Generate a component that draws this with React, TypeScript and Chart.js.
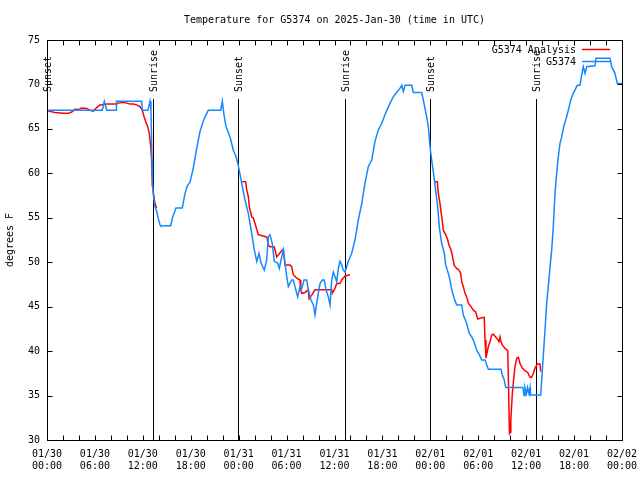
import React, { useEffect, useRef } from "react";
import { Chart, registerables } from "chart.js";

Chart.register(...registerables);

const FONT = '"DejaVu Sans Mono", "Liberation Mono", monospace';
const BLUE = "#1588ff";
const RED = "#ff0000";

const titleText = "Temperature for G5374 on 2025-Jan-30 (time in UTC)";
const yAxisTitle = "degrees F";
const obsLabel = "G5374";
const anaLabel = "G5374 Analysis";

// x axis: hours since 2025-01-30 00:00 UTC
const tickHours = [0, 6, 12, 18, 24, 30, 36, 42, 48, 54, 60, 66, 72];
const tickDates = ["01/30", "01/30", "01/30", "01/30", "01/31", "01/31", "01/31", "01/31", "02/01", "02/01", "02/01", "02/01", "02/02"];
const tickTimes = ["00:00", "06:00", "12:00", "18:00", "00:00", "06:00", "12:00", "18:00", "00:00", "06:00", "12:00", "18:00", "00:00"];

const yMin = 30;
const yMax = 75;
const yStep = 5;

// sunrise / sunset markers (hours)
const sunHours = [0, 13.31, 23.96, 37.32, 48.0, 61.25];
const sunLabels = ["Sunset", "Sunrise", "Sunset", "Sunrise", "Sunset", "Sunrise"];
const sunLineTopF = 68.4;

// G5374 observations
const obsHours = [
  0, 6.92, 7.18, 7.48, 8.64, 8.7, 11.86, 11.93, 12.65, 12.9,
  13.02, 13.15, 13.21, 13.31, 13.52, 13.74, 13.94, 14.15, 14.24, 15.49,
  15.74, 16.15, 16.94, 17.28, 17.57, 17.91, 18.32, 18.75, 19.16, 19.66,
  20.2, 21.75, 21.95, 22.16, 22.41, 22.92, 23.33, 23.67, 23.95, 24.38,
  24.79, 25.21, 25.63, 25.96, 26.26, 26.55, 26.8, 27.21, 27.51, 27.71,
  27.92, 28.21, 28.46, 28.89, 29.09, 29.39, 29.59, 29.8, 30.02, 30.22,
  30.64, 30.84, 31.05, 31.39, 31.68, 31.89, 32.18, 32.52, 32.72, 33.06,
  33.35, 33.56, 33.77, 33.97, 34.19, 34.47, 34.72, 34.94, 35.22, 35.44,
  35.65, 35.85, 36.06, 36.28, 36.48, 36.69, 36.9, 37.1, 37.32, 37.73,
  38.15, 38.57, 38.98, 39.41, 39.82, 40.23, 40.66, 41.07, 41.49, 41.91,
  42.32, 42.95, 43.36, 43.7, 44.2, 44.42, 44.62, 44.83, 45.67, 45.87,
  46.92, 47.12, 47.46, 47.75, 47.96, 48.17, 48.46, 48.71, 48.92, 49.12,
  49.42, 49.75, 49.92, 50.25, 50.46, 50.68, 51.0, 51.3, 51.93, 52.13,
  52.55, 52.88, 53.18, 53.47, 53.81, 54.13, 54.43, 54.85, 55.26, 56.85,
  57.01, 57.26, 57.44, 59.6, 59.73, 59.85, 60.04, 60.17, 60.36, 60.48,
  60.54, 61.82, 61.95, 62.15, 62.36, 62.57, 62.77, 62.99, 63.2, 63.4,
  63.61, 63.82, 64.03, 64.24, 64.45, 64.74, 64.95, 65.28, 65.58, 65.9,
  66.4, 66.74, 66.95, 67.15, 67.37, 67.58, 68.62, 68.75, 70.5, 70.71,
  71.12, 71.41, 72.0,
];
const obsTemps = [
  67.1, 67.1, 68.1, 67.1, 67.1, 68.1, 68.1, 67.1, 67.1, 68.1,
  67.1, 61.3, 58.6, 57.6, 56.25, 55.7, 54.9, 54.2, 54.1, 54.1,
  55.1, 56.1, 56.1, 57.75, 58.6, 59.0, 60.6, 62.8, 64.7, 66.1,
  67.1, 67.1, 68.1, 66.6, 65.3, 64.1, 62.6, 61.9, 60.9, 58.9,
  57.0, 55.5, 53.25, 51.4, 50.1, 51.0, 49.9, 49.1, 50.25, 52.9,
  53.1, 52.1, 50.1, 49.9, 49.3, 50.6, 51.4, 49.9, 48.4, 47.25,
  48.0, 48.0, 47.25, 46.1, 47.25, 47.0, 48.0, 48.0, 46.9, 45.75,
  45.2, 44.06, 45.4, 46.5, 47.6, 48.0, 48.0, 46.9, 46.1, 45.2,
  48.0, 48.9, 48.4, 47.8, 49.3, 50.1, 49.7, 49.1, 48.9, 50.1,
  51.0, 52.5, 54.75, 56.6, 58.9, 60.75, 61.5, 63.6, 64.9, 65.6,
  66.6, 67.9, 68.6, 69.0, 69.55, 69.9, 69.2, 69.9, 69.9, 69.1,
  69.1, 68.25, 66.75, 65.25, 63.0, 61.5, 59.6, 57.75, 56.25, 54.0,
  52.1, 51.0, 49.7, 48.75, 48.0, 46.9, 45.9, 45.2, 45.2, 44.06,
  43.1, 42.0, 41.6, 41.05, 40.1, 39.6, 39.0, 39.0, 37.95, 37.95,
  37.3, 36.75, 35.9, 35.9, 35.0, 35.9, 35.2, 35.9, 35.2, 35.9,
  35.06, 35.06, 36.75, 39.5, 42.4, 45.4, 47.25, 49.5, 51.4, 54.0,
  57.75, 60.0, 61.9, 63.4, 64.1, 65.4, 66.0, 67.1, 68.25, 69.0,
  69.9, 69.9, 71.06, 72.0, 71.25, 72.0, 72.1, 72.95, 72.95, 72.0,
  71.25, 70.1, 70.1,
];

// G5374 Analysis (null = no analysis)
const anaHours = [
  0.16, 1.0, 2.04, 2.67, 3.09, 3.51, 4.13, 4.35, 4.97, 5.38,
  5.8, 6.22, 6.64, 7.48, 8.73, 8.93, 9.55, 9.98, 10.39, 10.81,
  11.23, 11.65, 11.93, 12.15, 12.36, 12.61, 12.81, 12.99, 13.11, 13.19,
  13.36, 13.52, 13.74, 14.0, 24.46, 24.88, 25.01, 25.21, 25.33, 25.63,
  25.83, 25.96, 26.17, 26.46, 27.3, 27.55, 27.71, 27.92, 28.43, 28.55,
  28.76, 28.96, 29.3, 29.59, 29.8, 30.43, 30.64, 30.84, 31.27, 31.68,
  31.77, 31.89, 32.31, 32.72, 32.81, 33.15, 33.56, 35.65, 35.72, 36.06,
  36.28, 36.69, 36.9, 37.32, 37.94, 38.2, 48.59, 48.87, 49.0, 49.21,
  49.34, 49.5, 49.62, 49.92, 50.18, 50.34, 50.59, 50.75, 51.0, 51.3,
  51.59, 51.8, 51.93, 52.13, 52.34, 52.55, 52.76, 53.09, 53.38, 53.68,
  53.93, 54.22, 54.75, 54.85, 54.97, 55.26, 55.47, 55.69, 55.89, 56.44,
  56.6, 56.73, 56.85, 57.01, 57.35, 57.69, 57.76, 57.91, 58.01, 58.06,
  58.1, 58.27, 58.39, 58.6, 58.82, 59.02, 59.23, 59.52, 59.86, 60.19,
  60.48, 60.69, 60.9, 61.11, 61.4, 61.73, 61.82,
];
const anaTemps = [
  67.0, 66.85, 66.75, 66.75, 66.9, 67.2, 67.25, 67.35, 67.3, 67.1,
  67.0, 67.4, 67.7, 67.8, 67.8, 67.9, 68.0, 67.9, 67.8, 67.8,
  67.7, 67.5, 67.1, 66.4, 65.8, 65.25, 64.5, 63.0, 61.3, 58.7,
  57.6, 56.6, 56.1, null, 59.05, 59.05, 58.1, 57.4, 56.25, 55.1,
  55.0, 54.6, 54.0, 53.1, 52.9, 52.8, 51.9, 51.75, 51.75, 51.4,
  50.6, 50.8, 51.2, 51.45, 49.7, 49.7, 49.5, 48.6, 48.2, 48.0,
  46.9, 46.5, 46.6, 46.9, 45.9, 46.3, 46.9, 46.9, 46.5, 47.05,
  47.6, 47.6, 48.0, 48.45, 48.6, null, 59.05, 59.05, 57.75, 56.6,
  55.7, 54.6, 53.6, 53.1, 52.5, 51.9, 51.4, 50.8, 49.6, 49.3,
  49.1, 48.75, 47.8, 47.25, 46.5, 46.1, 45.4, 45.0, 44.6, 44.4,
  43.6, 43.7, 43.8, 41.25, 39.2, 40.5, 41.05, 41.8, 41.9, 41.3,
  41.05, 41.6, 41.05, 40.7, 40.3, 40.05, 37.5, 30.6, 32.0, 30.8,
  32.25, 35.25, 36.4, 38.25, 39.2, 39.3, 38.6, 38.1, 37.8, 37.6,
  37.05, 37.05, 37.5, 38.1, 38.55, 38.55, 37.7,
];

const decor = {
  id: "decor",
  beforeDatasetsDraw(chart: any) {
    const { ctx, chartArea: a, scales } = chart;
    const x = scales.x;
    const y = scales.y;
    ctx.save();
    ctx.strokeStyle = "#000";
    ctx.lineWidth = 1;
    const top = Math.round(y.getPixelForValue(sunLineTopF));
    sunHours.forEach((h) => {
      const px = Math.round(x.getPixelForValue(h)) + 0.5;
      ctx.beginPath();
      ctx.moveTo(px, top);
      ctx.lineTo(px, a.bottom);
      ctx.stroke();
    });
    ctx.restore();
  },
  afterDraw(chart: any) {
    const { ctx, chartArea: a, scales } = chart;
    const x = scales.x;
    const y = scales.y;
    ctx.save();
    ctx.strokeStyle = "#000";
    ctx.fillStyle = "#000";
    ctx.lineWidth = 1;
    const L = Math.round(a.left) + 0.5;
    const R = Math.round(a.right) + 0.5;
    const T = Math.round(a.top) + 0.5;
    const B = Math.round(a.bottom) + 0.5;
    ctx.strokeRect(L, T, R - L, B - T);
    // x tick marks every 2 hours, bottom and top, inward
    ctx.beginPath();
    for (let h = 0; h <= 72; h += 2) {
      const px = Math.round(x.getPixelForValue(h)) + 0.5;
      ctx.moveTo(px, B);
      ctx.lineTo(px, B - 5);
      ctx.moveTo(px, T);
      ctx.lineTo(px, T + 5);
    }
    for (let v = yMin; v <= yMax; v += yStep) {
      const py = Math.round(y.getPixelForValue(v)) + 0.5;
      ctx.moveTo(L, py);
      ctx.lineTo(L + 5, py);
      ctx.moveTo(R, py);
      ctx.lineTo(R - 5, py);
    }
    ctx.stroke();

    ctx.font = `10px ${FONT}`;
    // title
    ctx.textAlign = "center";
    ctx.textBaseline = "middle";
    ctx.fillText(titleText, (a.left + a.right) / 2, 20);
    // y title
    ctx.save();
    ctx.translate(10, (a.top + a.bottom) / 2);
    ctx.rotate(-Math.PI / 2);
    ctx.fillText(yAxisTitle, 0, 0);
    ctx.restore();
    // sun labels
    const lineTop = Math.round(y.getPixelForValue(sunLineTopF));
    sunHours.forEach((h, i) => {
      const px = Math.round(x.getPixelForValue(h)) + 0.5;
      ctx.save();
      ctx.translate(px + 1, lineTop - 7);
      ctx.rotate(-Math.PI / 2);
      ctx.textAlign = "left";
      ctx.textBaseline = "middle";
      ctx.fillText(sunLabels[i], 0, 0);
      ctx.restore();
    });
    // legend
    ctx.textAlign = "right";
    ctx.textBaseline = "middle";
    const legend = [
      { label: anaLabel, color: RED, yy: 50 },
      { label: obsLabel, color: BLUE, yy: 62 },
    ];
    legend.forEach((e) => {
      ctx.fillStyle = "#000";
      ctx.fillText(e.label, 576, e.yy);
      ctx.strokeStyle = e.color;
      ctx.lineWidth = 1.5;
      ctx.beginPath();
      ctx.moveTo(582, e.yy - 0.5);
      ctx.lineTo(610, e.yy - 0.5);
      ctx.stroke();
    });
    ctx.restore();
  },
};

export default function App() {
  const ref = useRef<HTMLCanvasElement>(null);
  useEffect(() => {
    const canvas = ref.current;
    if (!canvas) return;
    const chart = new Chart(canvas, {
      type: "line",
      data: {
        datasets: [
          {
            label: obsLabel,
            data: obsHours.map((h, i) => ({ x: h, y: obsTemps[i] })),
            borderColor: BLUE,
            backgroundColor: BLUE,
            borderWidth: 1.5,
            pointRadius: 0,
            tension: 0,
            fill: false,
          },
          {
            label: anaLabel,
            data: anaHours.map((h, i) => ({ x: h, y: anaTemps[i] })),
            borderColor: RED,
            backgroundColor: RED,
            borderWidth: 1.5,
            pointRadius: 0,
            tension: 0,
            fill: false,
            spanGaps: false,
          },
        ],
      } as any,
      options: {
        responsive: false,
        animation: false,
        devicePixelRatio: 1,
        layout: { padding: { top: 40, right: 18, left: 0, bottom: 0 } },
        plugins: {
          legend: { display: false },
          title: { display: false },
          tooltip: { enabled: false },
        },
        scales: {
          x: {
            type: "linear",
            min: 0,
            max: 72,
            afterFit: (s: any) => {
              s.height = 40;
              s.paddingLeft = 0;
              s.paddingRight = 0;
            },
            afterBuildTicks: (s: any) => {
              s.ticks = tickHours.map((v) => ({ value: v }));
            },
            grid: { display: false, drawTicks: false },
            border: { display: false },
            ticks: {
              autoSkip: false,
              maxRotation: 0,
              minRotation: 0,
              padding: 8,
              color: "#000",
              font: { family: FONT, size: 10, lineHeight: 1.2 },
              callback: (v: any) => {
                const i = tickHours.indexOf(Number(v));
                return i >= 0 ? [tickDates[i], tickTimes[i]] : "";
              },
            },
          },
          y: {
            type: "linear",
            min: yMin,
            max: yMax,
            afterFit: (s: any) => {
              s.width = 47;
              s.paddingTop = 0;
              s.paddingBottom = 0;
            },
            grid: { display: false, drawTicks: false },
            border: { display: false },
            ticks: {
              stepSize: yStep,
              padding: 7,
              color: "#000",
              font: { family: FONT, size: 10 },
            },
          },
        },
      } as any,
      plugins: [decor],
    });
    return () => chart.destroy();
  }, []);
  return (
    <div style={{ position: "absolute", left: 0, top: 0, width: 640, height: 480, background: "#fff" }}>
      <canvas ref={ref} width={640} height={480} style={{ display: "block" }} />
    </div>
  );
}
